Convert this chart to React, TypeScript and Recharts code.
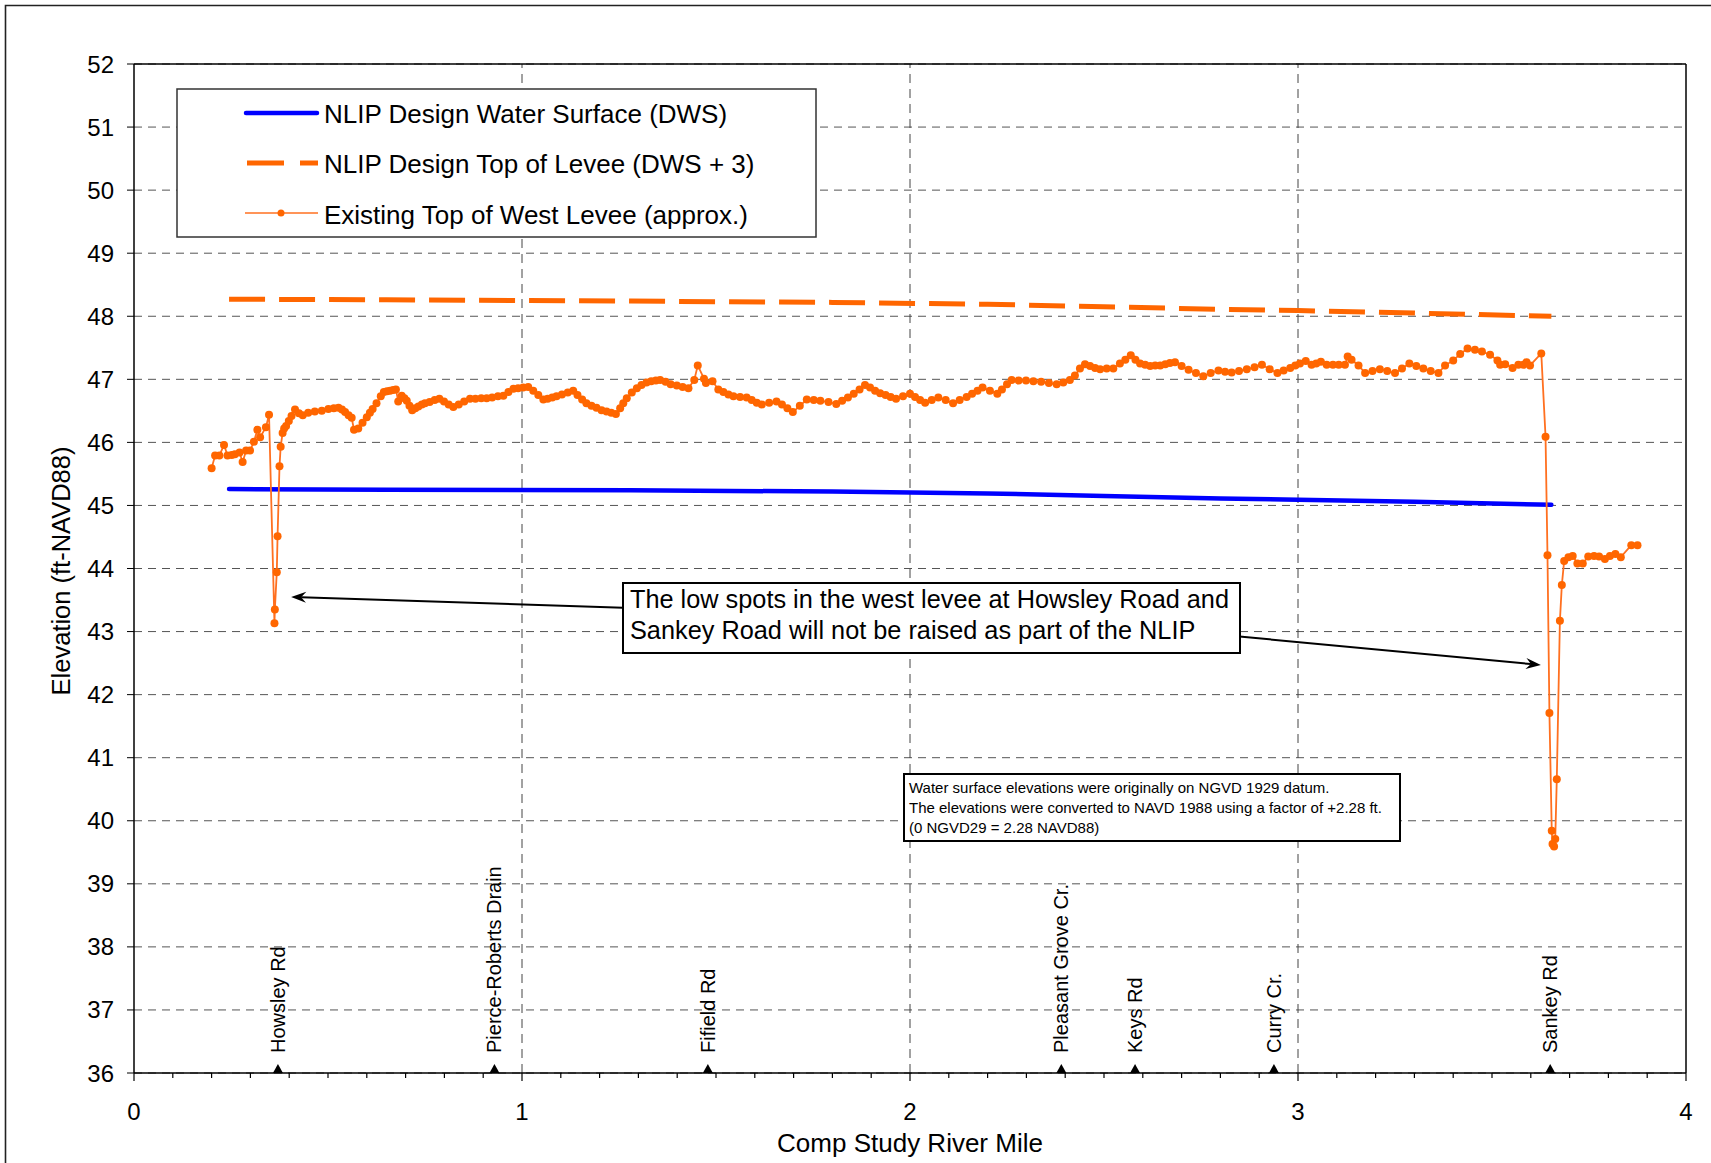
import React from 'react';
import {
    ComposedChart,
    Line,
    Scatter,
    XAxis,
    YAxis,
    CartesianGrid,
    ReferenceLine
} from 'recharts';

const FONT = "'Liberation Sans', Arial, Helvetica, sans-serif";

// [river mile, elevation ft-NAVD88]
const DWS: [number, number][] = [
    [0.245, 45.26], [0.65, 45.25], [1.28, 45.24], [1.8, 45.22], [2.2, 45.19],
    [2.5, 45.15], [2.8, 45.11], [3.0, 45.09], [3.3, 45.06], [3.653, 45.01],
];

const DESIGN_LEVEE: [number, number][] = [
    [0.245, 48.27], [0.65, 48.26], [1.28, 48.24], [1.8, 48.22], [2.2, 48.19],
    [2.5, 48.15], [2.8, 48.11], [3.0, 48.09], [3.3, 48.05], [3.653, 48.0],
];

const EXISTING_LEVEE: [number, number][] = [
    [0.200, 45.59], [0.209, 45.79], [0.220, 45.79], [0.232, 45.96], [0.241, 45.79],
    [0.252, 45.80], [0.260, 45.81], [0.272, 45.84], [0.280, 45.69], [0.289, 45.87],
    [0.299, 45.87], [0.309, 46.01], [0.318, 46.20], [0.325, 46.08], [0.340, 46.24],
    [0.348, 46.44], [0.362, 43.13], [0.363, 43.35], [0.368, 43.94], [0.370, 44.51],
    [0.375, 45.62], [0.378, 45.93], [0.383, 46.15], [0.387, 46.22], [0.392, 46.26],
    [0.399, 46.34], [0.406, 46.42], [0.415, 46.52], [0.425, 46.46], [0.435, 46.43],
    [0.449, 46.47], [0.466, 46.49], [0.484, 46.50], [0.501, 46.53], [0.515, 46.54],
    [0.527, 46.55], [0.536, 46.52], [0.544, 46.48], [0.553, 46.43], [0.561, 46.39],
    [0.567, 46.20], [0.578, 46.22], [0.589, 46.31], [0.600, 46.40], [0.608, 46.47],
    [0.615, 46.53], [0.625, 46.62], [0.636, 46.73], [0.644, 46.80], [0.652, 46.81],
    [0.660, 46.82], [0.668, 46.83], [0.675, 46.84], [0.681, 46.65], [0.690, 46.74],
    [0.697, 46.70], [0.703, 46.66], [0.710, 46.58], [0.717, 46.51], [0.725, 46.54],
    [0.733, 46.57], [0.742, 46.60], [0.750, 46.62], [0.762, 46.64], [0.775, 46.67],
    [0.787, 46.69], [0.799, 46.65], [0.811, 46.60], [0.823, 46.56], [0.837, 46.60],
    [0.851, 46.65], [0.866, 46.69], [0.880, 46.69], [0.895, 46.70], [0.909, 46.70],
    [0.923, 46.71], [0.938, 46.73], [0.952, 46.74], [0.965, 46.80], [0.978, 46.85],
    [0.990, 46.86], [1.003, 46.87], [1.016, 46.88], [1.029, 46.82], [1.042, 46.75],
    [1.055, 46.68], [1.066, 46.69], [1.078, 46.71], [1.089, 46.73], [1.103, 46.76],
    [1.118, 46.79], [1.132, 46.82], [1.143, 46.75], [1.155, 46.68], [1.166, 46.62],
    [1.179, 46.58], [1.192, 46.55], [1.205, 46.51], [1.218, 46.49], [1.230, 46.47],
    [1.242, 46.45], [1.253, 46.54], [1.261, 46.62], [1.270, 46.70], [1.283, 46.79],
    [1.296, 46.86], [1.308, 46.91], [1.321, 46.95], [1.333, 46.97], [1.345, 46.98],
    [1.356, 46.99], [1.370, 46.96], [1.383, 46.92], [1.399, 46.90], [1.414, 46.88],
    [1.429, 46.86], [1.444, 46.99], [1.453, 47.22], [1.469, 47.01], [1.474, 46.94],
    [1.491, 46.97], [1.506, 46.84], [1.519, 46.80], [1.532, 46.76], [1.545, 46.73],
    [1.562, 46.72], [1.579, 46.71], [1.592, 46.67], [1.605, 46.63], [1.618, 46.60],
    [1.637, 46.63], [1.656, 46.65], [1.670, 46.60], [1.684, 46.54], [1.698, 46.48],
    [1.716, 46.58], [1.734, 46.68], [1.752, 46.67], [1.769, 46.66], [1.790, 46.64],
    [1.810, 46.61], [1.825, 46.66], [1.840, 46.71], [1.855, 46.77], [1.870, 46.84],
    [1.884, 46.91], [1.897, 46.87], [1.910, 46.82], [1.923, 46.78], [1.937, 46.75],
    [1.950, 46.72], [1.964, 46.69], [1.982, 46.73], [2.000, 46.77], [2.013, 46.72],
    [2.026, 46.67], [2.039, 46.63], [2.056, 46.67], [2.073, 46.71], [2.092, 46.67],
    [2.111, 46.62], [2.128, 46.67], [2.146, 46.72], [2.160, 46.77], [2.174, 46.82],
    [2.187, 46.87], [2.206, 46.82], [2.225, 46.77], [2.237, 46.84], [2.250, 46.92],
    [2.262, 46.99], [2.280, 46.98], [2.299, 46.98], [2.318, 46.97], [2.338, 46.96],
    [2.358, 46.94], [2.378, 46.92], [2.395, 46.95], [2.412, 46.99], [2.425, 47.06],
    [2.438, 47.17], [2.451, 47.24], [2.464, 47.21], [2.477, 47.18], [2.490, 47.16],
    [2.507, 47.17], [2.524, 47.17], [2.541, 47.25], [2.555, 47.31], [2.569, 47.38],
    [2.581, 47.31], [2.593, 47.25], [2.606, 47.23], [2.619, 47.21], [2.632, 47.22],
    [2.645, 47.22], [2.658, 47.24], [2.670, 47.26], [2.683, 47.27], [2.700, 47.21],
    [2.718, 47.15], [2.737, 47.10], [2.756, 47.05], [2.775, 47.10], [2.795, 47.14],
    [2.812, 47.12], [2.829, 47.11], [2.848, 47.13], [2.868, 47.16], [2.888, 47.19],
    [2.907, 47.23], [2.927, 47.16], [2.947, 47.10], [2.963, 47.14], [2.980, 47.18],
    [2.993, 47.22], [3.005, 47.25], [3.020, 47.29], [3.035, 47.23], [3.047, 47.25],
    [3.059, 47.28], [3.074, 47.23], [3.090, 47.23], [3.105, 47.23], [3.121, 47.23],
    [3.128, 47.36], [3.138, 47.31], [3.156, 47.22], [3.173, 47.10], [3.192, 47.13],
    [3.211, 47.16], [3.230, 47.13], [3.250, 47.10], [3.268, 47.17], [3.287, 47.25],
    [3.305, 47.21], [3.323, 47.17], [3.342, 47.13], [3.362, 47.10], [3.379, 47.22],
    [3.400, 47.30], [3.418, 47.40], [3.437, 47.49], [3.456, 47.47], [3.474, 47.44],
    [3.495, 47.39], [3.514, 47.30], [3.521, 47.23], [3.534, 47.24], [3.553, 47.18],
    [3.568, 47.23], [3.581, 47.23], [3.589, 47.27], [3.598, 47.22], [3.627, 47.41],
    [3.638, 46.09], [3.643, 44.21], [3.648, 41.71], [3.654, 39.84], [3.656, 39.63],
    [3.660, 39.59], [3.663, 39.71], [3.667, 40.66], [3.675, 43.17], [3.680, 43.74],
    [3.686, 44.12], [3.697, 44.18], [3.708, 44.20], [3.720, 44.08], [3.734, 44.08],
    [3.748, 44.19], [3.763, 44.20], [3.776, 44.19], [3.791, 44.15], [3.804, 44.20],
    [3.818, 44.23], [3.832, 44.18], [3.859, 44.37], [3.875, 44.37],
];

const ROAD_NAMES = ['Howsley Rd', 'Pierce-Roberts Drain', 'Fifield Rd', 'Pleasant Grove Cr.', 'Keys Rd', 'Curry Cr.', 'Sankey Rd'];
const ROAD_MILES = [0.371, 0.929, 1.479, 2.390, 2.580, 2.938, 3.650];

const X_MAJOR = [0, 1, 2, 3, 4];
const Y_TICKS = [36, 37, 38, 39, 40, 41, 42, 43, 44, 45, 46, 47, 48, 49, 50, 51, 52];

// callout arrows: tail (under the box) -> head
const ARROWS: [number, number][][] = [
    [[1.30, 43.37], [0.405, 43.55]],
    [[2.80, 42.95], [3.626, 42.47]],
];

const LEGEND_LABELS = [
    'NLIP Design Water Surface (DWS)',
    'NLIP Design Top of Levee (DWS + 3)',
    'Existing Top of West Levee (approx.)',
];
const CALLOUT = [
    'The low spots in the west levee at Howsley Road and',
    'Sankey Road will not be raised as part of the NLIP',
];
const NOTE = [
    'Water surface elevations were originally on NGVD 1929 datum.',
    'The elevations were converted to NAVD 1988 using a factor of +2.28 ft.',
    '(0 NGVD29 = 2.28 NAVD88)',
];

const toPts = (arr: [number, number][]) => arr.map(([x, y]) => ({ x, y }));

// minor ticks every 0.1 mile between the labelled ones
const X_TICKS = Array.from({ length: 41 }, (_, i) => i / 10);

const XTick = (props: any) => {
    const { x, y, payload } = props;
    const v = payload.value;
    const major = X_MAJOR.some((m) => Math.abs(m - v) < 1e-6);
    return (
        <g>
            <line x1={x} x2={x} y1={y} y2={y + (major ? 8 : 5)} stroke="#000" strokeWidth={1.2} />
            {major && (
                <text x={x} y={y + 47} textAnchor="middle" fontSize={24} fill="#000">
                    {Math.round(v)}
                </text>
            )}
        </g>
    );
};

const RoadMarker = (props: any) => {
    const { cx, cy, payload } = props;
    return (
        <g>
            <polygon points={`${cx - 5},${cy} ${cx + 5},${cy} ${cx},${cy - 9}`} fill="#000" />
            <text
                transform={`translate(${cx},${cy - 20}) rotate(-90)`}
                fontSize={20}
                dominantBaseline="central"
                fill="#000"
            >
                {payload.name}
            </text>
        </g>
    );
};

const Arrow = (props: any) => {
    const { x1, y1, x2, y2 } = props;
    const a = Math.atan2(y2 - y1, x2 - x1);
    const L = 15, W = 5.5, N = 10;
    const bx = x2 - L * Math.cos(a), by = y2 - L * Math.sin(a);
    const nx = x2 - N * Math.cos(a), ny = y2 - N * Math.sin(a);
    const px = -Math.sin(a), py = Math.cos(a);
    return (
        <g>
            <line x1={x1} y1={y1} x2={nx} y2={ny} stroke="#000" strokeWidth={2} />
            <polygon
                points={`${x2},${y2} ${bx + W * px},${by + W * py} ${nx},${ny} ${bx - W * px},${by - W * py}`}
                fill="#000"
            />
        </g>
    );
};

export default function App() {
    const roads = ROAD_NAMES.map((name, i) => ({ name, x: ROAD_MILES[i], y: 36 }));

    return (
        <div
            style={{
                position: 'absolute', left: 0, top: 0, width: 1711, height: 1163,
                overflow: 'hidden', background: '#fff', fontFamily: FONT
            }}
        >
            <ComposedChart width={1711} height={1163} margin={{ top: 64, right: 25, bottom: 0, left: 0 }}>
                <CartesianGrid vertical={false} stroke="#555" strokeDasharray="8 6" />
                <XAxis
                    type="number"
                    dataKey="x"
                    domain={[0, 4]}
                    ticks={X_TICKS}
                    interval={0}
                    height={90}
                    tickLine={false}
                    tickSize={0}
                    tickMargin={0}
                    axisLine={{ stroke: '#000', strokeWidth: 1.5 }}
                    tick={(p: any) => <XTick {...p} />}
                    allowDataOverflow
                />
                <YAxis
                    type="number"
                    dataKey="y"
                    domain={[36, 52]}
                    ticks={Y_TICKS}
                    interval={0}
                    width={134}
                    tickSize={7}
                    tickMargin={13}
                    tickLine={{ stroke: '#000' }}
                    axisLine={{ stroke: '#000', strokeWidth: 1.5 }}
                    tick={{ fontSize: 24, fill: '#000' }}
                    allowDataOverflow
                />
                {[1, 2, 3].map((v) => (
                    <ReferenceLine key={v} x={v} stroke="#444" strokeDasharray="9 6" />
                ))}
                <ReferenceLine y={52} stroke="#000" strokeWidth={1.5} />
                <ReferenceLine x={4} stroke="#000" strokeWidth={1.5} />

                <Line
                    data={toPts(DESIGN_LEVEE)}
                    dataKey="y"
                    type="linear"
                    stroke="#FF6600"
                    strokeWidth={5}
                    strokeDasharray="36 14"
                    dot={false}
                    isAnimationActive={false}
                />
                <Line
                    data={toPts(DWS)}
                    dataKey="y"
                    type="linear"
                    stroke="#0000FF"
                    strokeWidth={4.5}
                    strokeLinecap="round"
                    dot={false}
                    isAnimationActive={false}
                />
                <Line
                    data={toPts(EXISTING_LEVEE)}
                    dataKey="y"
                    type="linear"
                    stroke="#FF7020"
                    strokeWidth={1.8}
                    dot={{ r: 4, fill: '#FF6600', stroke: '#FF6600', strokeWidth: 0 }}
                    isAnimationActive={false}
                />
                <Scatter data={roads} dataKey="y" shape={(p: any) => <RoadMarker {...p} />} isAnimationActive={false} />

                {ARROWS.map((seg, i) => (
                    <ReferenceLine
                        key={`arrow-${i}`}
                        segment={[{ x: seg[0][0], y: seg[0][1] }, { x: seg[1][0], y: seg[1][1] }]}
                        shape={(p: any) => <Arrow {...p} />}
                        ifOverflow="visible"
                    />
                ))}
            </ComposedChart>

            <svg
                width={1711}
                height={1163}
                style={{ position: 'absolute', left: 0, top: 0, pointerEvents: 'none' }}
            >
                <path d="M5.5 1163 V5.5 H1711" stroke="#222" strokeWidth={1.6} fill="none" />

                <text transform="translate(61,571) rotate(-90)" textAnchor="middle" dominantBaseline="central" fontSize={25.5} fill="#000">
                    Elevation (ft-NAVD88)
                </text>
                <text x={910} y={1143} textAnchor="middle" dominantBaseline="central" fontSize={26} fill="#000">
                    Comp Study River Mile
                </text>

                {/* legend */}
                <rect x={177} y={89} width={639} height={148} fill="#fff" stroke="#333" strokeWidth={1.5} />
                <line x1={246} x2={317} y1={113} y2={113} stroke="#0000FF" strokeWidth={4.5} strokeLinecap="round" />
                <line x1={247} x2={318} y1={163} y2={163} stroke="#FF6600" strokeWidth={5} strokeDasharray="37 16" />
                <line x1={245} x2={318} y1={213} y2={213} stroke="#FF7020" strokeWidth={1.5} />
                <circle cx={281} cy={213} r={3.5} fill="#FF6600" />
                {LEGEND_LABELS.map((t, i) => (
                    <text key={t} x={324} y={122.5 + i * 50.5} fontSize={26} fill="#000">{t}</text>
                ))}

                {/* callout */}
                <rect x={623} y={583} width={617} height={70} fill="#fff" stroke="#000" strokeWidth={2} />
                {CALLOUT.map((t, i) => (
                    <text key={t} x={630} y={608 + i * 31} fontSize={25.3} fill="#000">{t}</text>
                ))}

                {/* datum note */}
                <rect x={904} y={774} width={496} height={67} fill="#fff" stroke="#000" strokeWidth={2} />
                {NOTE.map((t, i) => (
                    <text key={t} x={909} y={793 + i * 20} fontSize={15} fill="#000">{t}</text>
                ))}
            </svg>
        </div>
    );
}
